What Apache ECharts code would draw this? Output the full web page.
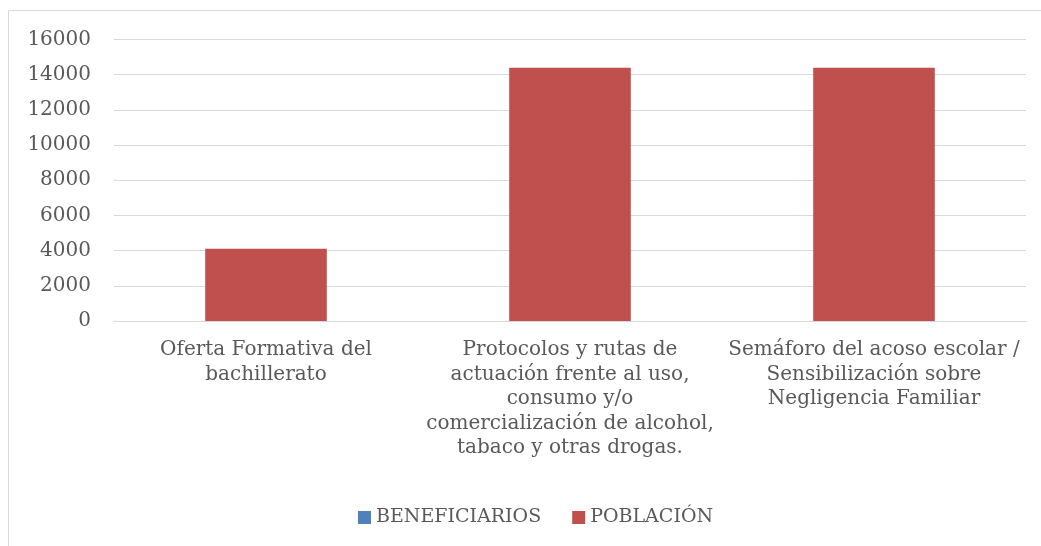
<!DOCTYPE html>
<html>
<head>
<meta charset="utf-8">
<script src="https://cdn.jsdelivr.net/npm/echarts@6/dist/echarts.min.js"></script>
<style>
  html, body { margin: 0; padding: 0; background: #fff; }
  #chart { width: 1041px; height: 546px; }
</style>
</head>
<body>
<div id="chart"></div>
<script>
const categories = [
  'Oferta Formativa del\nbachillerato',
  'Protocolos y rutas de\nactuación frente al uso,\nconsumo y/o\ncomercialización de alcohol,\ntabaco y otras drogas.',
  'Semáforo del acoso escolar /\nSensibilización sobre\nNegligencia Familiar'
];
const beneficiarios = [0, 0, 0];
const poblacion = [4100, 14400, 14400];
const yTicks = { min: 0, max: 16000, interval: 2000 };

const font = 'DejaVu Serif';
const textColor = '#595959';

const chart = echarts.init(document.getElementById('chart'));
chart.setOption({
  animation: false,
  textStyle: { fontFamily: font },
  graphic: [{
    type: 'rect',
    shape: { x: 8.5, y: 10.5, width: 1100, height: 600 },
    style: { fill: 'none', stroke: '#d9d9d9', lineWidth: 1 },
    silent: true
  }],
  grid: { left: 114, right: 15, top: 39.5, bottom: 225, containLabel: false },
  legend: {
    data: ['BENEFICIARIOS', 'POBLACIÓN'],
    bottom: 14,
    left: 353,
    icon: 'rect',
    itemWidth: 13,
    itemHeight: 13,
    itemGap: 31,
    textStyle: { color: textColor, fontFamily: font, fontSize: 19 }
  },
  xAxis: {
    type: 'category',
    data: categories,
    axisLine: { lineStyle: { color: '#d9d9d9' } },
    axisTick: { show: false },
    axisLabel: {
      color: textColor,
      fontFamily: font,
      fontSize: 20,
      lineHeight: 24.5,
      margin: 17,
      interval: 0
    }
  },
  yAxis: {
    type: 'value',
    min: yTicks.min,
    max: yTicks.max,
    interval: yTicks.interval,
    axisLine: { show: false },
    axisTick: { show: false },
    splitLine: { lineStyle: { color: '#d9d9d9', width: 1 } },
    axisLabel: {
      color: textColor,
      fontFamily: font,
      fontSize: 20,
      margin: 23,
      formatter: v => String(v)
    }
  },
  series: [
    {
      name: 'BENEFICIARIOS',
      type: 'bar',
      data: beneficiarios,
      itemStyle: { color: '#4f81bd' },
      barGap: '-100%',
      barCategoryGap: '60%'
    },
    {
      name: 'POBLACIÓN',
      type: 'bar',
      data: poblacion,
      itemStyle: { color: '#c0504d' },
      barGap: '-100%',
      barCategoryGap: '60%'
    }
  ]
});
</script>
</body>
</html>
